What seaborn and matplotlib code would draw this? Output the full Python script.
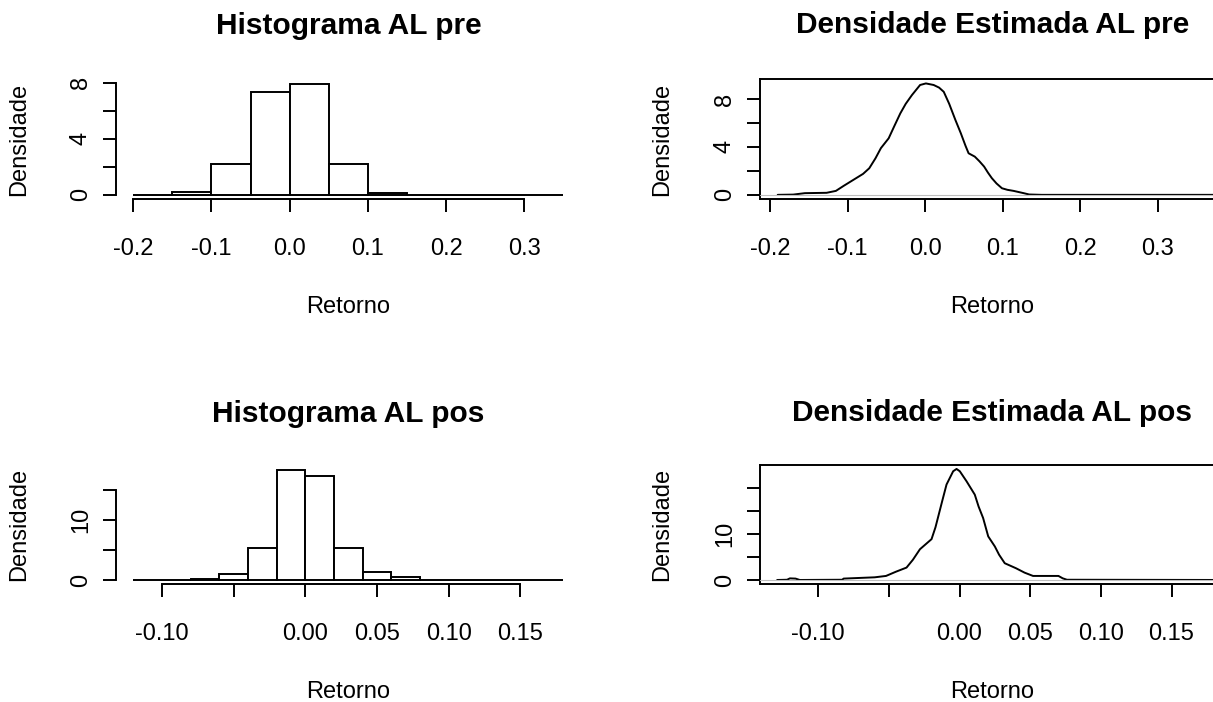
import numpy as np
import pandas as pd
import seaborn as sns
from matplotlib import pyplot as plt

# Histograma AL pre (quebras e densidades de cada classe)
pre_breaks = [-0.20, -0.15, -0.10, -0.05, 0.00, 0.05, 0.10, 0.15, 0.20, 0.25, 0.30, 0.35]
pre_heights = [0.02, 0.24, 2.18, 7.30, 7.90, 2.18, 0.12, 0.01, 0.01, 0.01, 0.01]

# Histograma AL pos
pos_breaks = [-0.12, -0.10, -0.08, -0.06, -0.04, -0.02, 0.00, 0.02, 0.04, 0.06, 0.08,
              0.10, 0.12, 0.14, 0.16, 0.18]
pos_heights = [0.02, 0.05, 0.22, 1.06, 5.40, 18.4, 17.4, 5.40, 1.33, 0.56, 0.05,
               0.02, 0.02, 0.02, 0.02]

# Densidade estimada AL pre
pre_dens_x = [-0.19, -0.17, -0.155, -0.127, -0.115, -0.105, -0.095, -0.087, -0.08, -0.072,
              -0.064, -0.057, -0.047, -0.04, -0.032, -0.025, -0.017, -0.0065, 0.001, 0.011,
              0.018, 0.024, 0.031, 0.039, 0.046, 0.052, 0.056, 0.064, 0.07, 0.076,
              0.081, 0.086, 0.092, 0.099, 0.106, 0.114, 0.127, 0.134, 0.15, 0.38]
pre_dens_y = [0.0, 0.02, 0.14, 0.17, 0.33, 0.75, 1.15, 1.47, 1.75, 2.22,
              3.05, 3.90, 4.72, 5.70, 6.80, 7.60, 8.33, 9.17, 9.30, 9.17,
              8.95, 8.60, 7.60, 6.25, 5.14, 4.10, 3.47, 3.19, 2.80, 2.36,
              1.85, 1.39, 0.95, 0.55, 0.42, 0.33, 0.14, 0.03, 0.0, 0.0]

# Densidade estimada AL pos
pos_dens_x = [-0.129, -0.122, -0.12, -0.116, -0.113, -0.083, -0.082, -0.06, -0.052, -0.045,
              -0.0375, -0.033, -0.028, -0.0198, -0.017, -0.015, -0.012, -0.0092, -0.0045, -0.0021,
              0.0002, 0.005, 0.0108, 0.0135, 0.0167, 0.0203, 0.025, 0.028, 0.032, 0.040,
              0.046, 0.052, 0.070, 0.073, 0.076, 0.185]
pos_dens_y = [0.0, 0.05, 0.35, 0.30, 0.0, 0.05, 0.30, 0.58, 0.88, 1.80,
              2.70, 4.40, 6.70, 8.90, 11.5, 13.9, 17.5, 20.8, 23.7, 24.2,
              23.7, 21.5, 18.6, 16.0, 13.5, 9.5, 7.3, 5.5, 3.65, 2.55,
              1.60, 0.88, 0.88, 0.36, 0.05, 0.0]

pre_xticks = [-0.2, -0.1, 0.0, 0.1, 0.2, 0.3]
pre_xlabels = ["-0.2", "-0.1", "0.0", "0.1", "0.2", "0.3"]
pos_xticks = [-0.10, -0.05, 0.00, 0.05, 0.10, 0.15]
pos_xlabels = ["-0.10", "", "0.00", "0.05", "0.10", "0.15"]

LW = 1.4
TICK_LEN = 9.4
FS = 17

sns.set_style("ticks")
plt.rcParams["font.family"] = ["Liberation Sans", "DejaVu Sans"]
plt.rcParams["text.color"] = "black"
plt.rcParams["axes.labelcolor"] = "black"
plt.rcParams["axes.edgecolor"] = "black"


def style_axis(ax, xticks, xlabels, yticks, ylabels, xlim, ylim, title, title_pad):
    ax.set_xlim(xlim)
    ax.set_ylim(ylim)
    ax.set_xticks(xticks)
    ax.set_xticklabels(xlabels)
    ax.set_yticks(yticks)
    ax.set_yticklabels(ylabels, rotation=90, va="center")
    ax.tick_params(axis="both", direction="out", length=TICK_LEN, width=LW,
                   labelsize=FS, colors="black")
    ax.tick_params(axis="x", pad=18.6)
    ax.tick_params(axis="y", pad=8)
    ax.set_xlabel("Retorno", fontsize=FS, labelpad=25.6, color="black")
    ax.set_ylabel("Densidade", fontsize=FS, labelpad=29, color="black")
    ax.set_title(title, fontsize=21.5, fontweight="bold", pad=title_pad, color="black")


def draw_hist(ax, breaks, heights, title, xticks, xlabels, yticks, ylabels, title_pad):
    centers = [(a + b) / 2 for a, b in zip(breaks[:-1], breaks[1:])]
    sns.histplot(x=centers, weights=heights, bins=breaks, stat="count",
                 color="white", edgecolor="black", linewidth=LW, alpha=1, ax=ax)
    span = breaks[-1] - breaks[0]
    xlim = (breaks[0] - 0.04 * span, breaks[-1] + 0.04 * span)
    top = max(heights)
    ylim = (-0.04 * top, top * 1.04)
    style_axis(ax, xticks, xlabels, yticks, ylabels, xlim, ylim, title, title_pad)
    for s in ["top", "right"]:
        ax.spines[s].set_visible(False)
    ax.spines["left"].set_bounds(yticks[0], yticks[-1])
    ax.spines["bottom"].set_bounds(xticks[0], xticks[-1])
    for s in ["left", "bottom"]:
        ax.spines[s].set_linewidth(LW)


def draw_density(ax, dx, dy, title, xticks, xlabels, yticks, ylabels, xlim, title_pad):
    sns.lineplot(x=dx, y=dy, color="black", linewidth=LW, ax=ax)
    ax.axhline(0, color="#bebebe", linewidth=0.8, zorder=5)
    top = max(dy)
    ylim = (-0.04 * top, top * 1.04)
    style_axis(ax, xticks, xlabels, yticks, ylabels, xlim, ylim, title, title_pad)
    for s in ax.spines.values():
        s.set_visible(True)
        s.set_linewidth(LW)


fig = plt.figure(figsize=(12.13, 7.02), dpi=100)
ax_tl = fig.add_axes([0.0957, 0.7160, 0.3829, 0.1707])
ax_tr = fig.add_axes([0.6265, 0.7161, 0.3829, 0.1714])
ax_bl = fig.add_axes([0.0957, 0.1675, 0.3829, 0.1698])
ax_br = fig.add_axes([0.6265, 0.1675, 0.3829, 0.1708])

draw_hist(ax_tl, pre_breaks, pre_heights, "Histograma AL pre", pre_xticks, pre_xlabels,
          [0, 2, 4, 6, 8], ["0", "", "4", "", "8"], 32.8)
draw_density(ax_tr, pre_dens_x, pre_dens_y, "Densidade Estimada AL pre", pre_xticks, pre_xlabels,
             [0, 2, 4, 6, 8], ["0", "", "4", "", "8"], (-0.2129, 0.3857), 32.8)
draw_hist(ax_bl, pos_breaks, pos_heights, "Histograma AL pos", pos_xticks, pos_xlabels,
          [0, 5, 10, 15], ["0", "", "10", ""], 31.3)
draw_density(ax_br, pos_dens_x, pos_dens_y, "Densidade Estimada AL pos", pos_xticks, pos_xlabels,
             [0, 5, 10, 15, 20], ["0", "", "10", "", ""], (-0.1412, 0.1874), 31.3)

fig.savefig("out.png", dpi=100)
